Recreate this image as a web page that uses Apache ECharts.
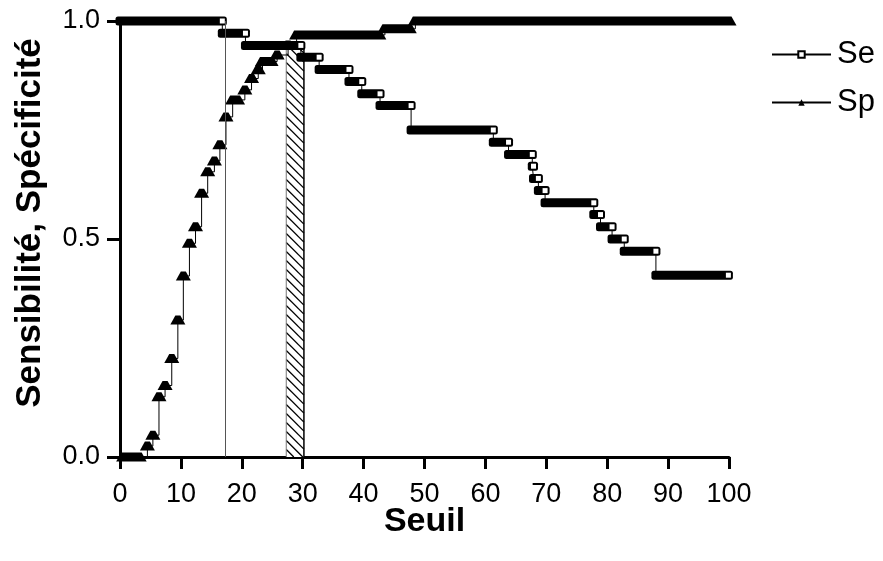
<!DOCTYPE html>
<html>
<head>
<meta charset="utf-8">
<script src="https://cdn.jsdelivr.net/npm/echarts@6/dist/echarts.min.js"></script>
<style>
  html, body { margin: 0; padding: 0; background: #fff; }
  #chart { width: 883px; height: 561px; }
</style>
</head>
<body>
<div id="chart"></div>
<script>
// Sensitivity (Se): each step ends at a threshold, value held since the previous one
const seEnd   = [16.8, 20.6, 29.7, 32.7, 37.6, 39.7, 42.7, 47.8, 61.3, 63.8, 67.7, 67.9, 68.7, 69.8, 77.8, 78.9, 80.8, 82.8, 88.0, 99.9];
const seValue = [1.000, 0.972, 0.944, 0.917, 0.889, 0.861, 0.833, 0.806, 0.750, 0.722, 0.694, 0.667, 0.639, 0.611, 0.583, 0.556, 0.528, 0.500, 0.472, 0.417];

// Specificity (Sp): runs of thresholds sharing the same value
const spStart = [0.6, 4.5, 5.4, 6.4, 7.4, 8.5, 9.5, 10.4, 11.4, 12.4, 13.4, 14.4, 15.5, 16.4, 17.4, 18.5, 20.5, 21.6, 22.7, 23.4, 25.8, 27.6, 29.0, 43.5, 48.5];
const spEnd   = [3.15, 4.5, 5.4, 6.4, 7.4, 8.5, 9.5, 10.4, 11.4, 12.4, 13.4, 14.4, 15.5, 16.4, 17.4, 19.3, 20.5, 21.6, 22.7, 24.8, 25.8, 27.6, 42.5, 47.5, 100];
const spValue = [0.000, 0.025, 0.050, 0.138, 0.164, 0.226, 0.314, 0.415, 0.490, 0.528, 0.605, 0.654, 0.679, 0.716, 0.780, 0.819, 0.842, 0.868, 0.888, 0.907, 0.922, 0.945, 0.968, 0.982, 1.000];

// Reference threshold line and the shaded threshold band
const cutX = 17.3;
const bandX = [27.3, 30.2];
const bandTop = 0.947;

const xTicks = [0, 10, 20, 30, 40, 50, 60, 70, 80, 90, 100];
const yTicks = [0.0, 0.5, 1.0];

const FONT = '"Liberation Sans", Arial, Helvetica, sans-serif';

const seRows = seEnd.map((e, i) => [i ? seEnd[i - 1] : 0, e, seValue[i]]);
const spRows = spStart.map((s, i) => [s, spEnd[i], spValue[i]]);

const sePath = [];
seRows.forEach(r => { sePath.push([r[0], r[2]], [r[1], r[2]]); });
const spPath = [];
spRows.forEach(r => { spPath.push([r[0], r[2]], [r[1], r[2]]); });

// thick black run with an open square at its right end
function renderSeRun(params, api) {
  const a = api.coord([api.value(0), api.value(2)]);
  const b = api.coord([api.value(1), api.value(2)]);
  const h = 9;
  return {
    type: 'group',
    children: [
      { type: 'rect', shape: { x: a[0] - 4.5, y: a[1] - h / 2, width: b[0] - a[0] + 9, height: h, r: 2.5 }, style: { fill: '#000' } },
      { type: 'rect', shape: { x: b[0] - 2.5, y: b[1] - 2.5, width: 5, height: 5 }, style: { fill: '#fff' } }
    ]
  };
}

// run of filled triangles merged into one trapezoid
function renderSpRun(params, api) {
  const a = api.coord([api.value(0), api.value(2)]);
  const b = api.coord([api.value(1), api.value(2)]);
  const y = a[1];
  return {
    type: 'polygon',
    shape: { points: [[a[0] - 2.5, y - 4.5], [b[0] + 2.5, y - 4.5], [b[0] + 7.5, y + 4.5], [a[0] - 7.5, y + 4.5]] },
    style: { fill: '#000' }
  };
}

// hatched threshold band
function renderBand(params, api) {
  const p0 = api.coord([api.value(0), api.value(2)]);
  const p1 = api.coord([api.value(1), 0]);
  const x0 = p0[0], x1 = p1[0], y0 = p0[1], y1 = p1[1];
  const w = x1 - x0;
  const children = [{ type: 'rect', shape: { x: x0, y: y0, width: w, height: y1 - y0 }, style: { fill: '#fff' } }];
  const gap = 9;
  for (let c = -w; c < y1 - y0; c += gap) {
    let xa = x0, ya = y0 + c;
    if (ya < y0) { xa = x0 + (y0 - ya); ya = y0; }
    let xb = x1, yb = y0 + c + w;
    if (yb > y1) { xb = x1 - (yb - y1); yb = y1; }
    if (xb > xa) {
      children.push({ type: 'line', shape: { x1: xa, y1: ya, x2: xb, y2: yb }, style: { stroke: '#000', lineWidth: 1.3 } });
    }
  }
  children.push({ type: 'line', shape: { x1: x0, y1: y0, x2: x0, y2: y1 }, style: { stroke: '#777', lineWidth: 1 } });
  children.push({ type: 'line', shape: { x1: x1, y1: y0, x2: x1, y2: y1 }, style: { stroke: '#000', lineWidth: 1.5 } });
  return { type: 'group', children };
}

const chart = echarts.init(document.getElementById('chart'), null, { renderer: 'canvas' });

chart.setOption({
  animation: false,
  backgroundColor: '#fff',
  grid: { left: 120, right: 154, top: 21, bottom: 104, containLabel: false },
  legend: {
    data: ['Se', 'Sp'],
    orient: 'vertical',
    left: 771,
    top: 37,
    padding: 0,
    itemWidth: 59,
    itemHeight: 8,
    itemGap: 13,
    selectedMode: false,
    textStyle: { fontFamily: FONT, fontSize: 31, color: '#000', lineHeight: 35, padding: [0, 0, 0, 1] }
  },
  xAxis: {
    type: 'value',
    min: 0, max: 100, interval: 10,
    name: 'Seuil',
    nameLocation: 'middle',
    nameGap: 48,
    nameMoveOverlap: false,
    nameTextStyle: { fontFamily: FONT, fontSize: 34, fontWeight: 'bold', color: '#000' },
    axisLine: { show: true, lineStyle: { color: '#000', width: 3 } },
    axisTick: { show: true, length: 12, lineStyle: { color: '#000', width: 3 } },
    axisLabel: { fontFamily: FONT, fontSize: 27, color: '#000', margin: 24,
      customValues: xTicks, formatter: v => String(v) },
    splitLine: { show: false }
  },
  yAxis: {
    type: 'value',
    min: 0, max: 1, interval: 0.5,
    name: 'Sensibilité, Spécificité',
    nameLocation: 'middle',
    nameGap: 72,
    nameTextStyle: { fontFamily: FONT, fontSize: 35, fontWeight: 'bold', color: '#000', padding: [0, 0, 0, 32] },
    axisLine: { show: true, lineStyle: { color: '#000', width: 3 } },
    axisTick: { show: true, length: 13, lineStyle: { color: '#000', width: 3 } },
    axisLabel: { fontFamily: FONT, fontSize: 27, color: '#000', margin: 20,
      customValues: yTicks, formatter: v => v.toFixed(1) },
    splitLine: { show: false }
  },
  series: [
    {
      type: 'custom',
      renderItem: renderBand,
      data: [[bandX[0], bandX[1], bandTop]],
      encode: { x: [0, 1], y: 2 },
      clip: false,
      silent: true,
      z: 1
    },
    {
      name: 'Se',
      type: 'line',
      data: sePath,
      symbol: 'rect',
      symbolSize: 7,
      showSymbol: false,
      itemStyle: { color: '#fff', borderColor: '#000', borderWidth: 1.5 },
      lineStyle: { color: '#000', width: 1 },
      clip: false,
      z: 2,
      markLine: {
        silent: true,
        symbol: ['none', 'none'],
        label: { show: false },
        lineStyle: { color: '#555', width: 1, type: 'solid' },
        data: [{ xAxis: cutX }]
      }
    },
    {
      name: 'Sp',
      type: 'line',
      data: spPath,
      step: 'end',
      symbol: 'triangle',
      symbolSize: 9,
      showSymbol: false,
      itemStyle: { color: '#000' },
      lineStyle: { color: '#000', width: 1 },
      clip: false,
      z: 2
    },
    {
      type: 'custom',
      renderItem: renderSpRun,
      data: spRows,
      encode: { x: [0, 1], y: 2 },
      clip: false,
      silent: true,
      z: 3
    },
    {
      type: 'custom',
      renderItem: renderSeRun,
      data: seRows,
      encode: { x: [0, 1], y: 2 },
      clip: false,
      silent: true,
      z: 4
    }
  ]
});
</script>
</body>
</html>
